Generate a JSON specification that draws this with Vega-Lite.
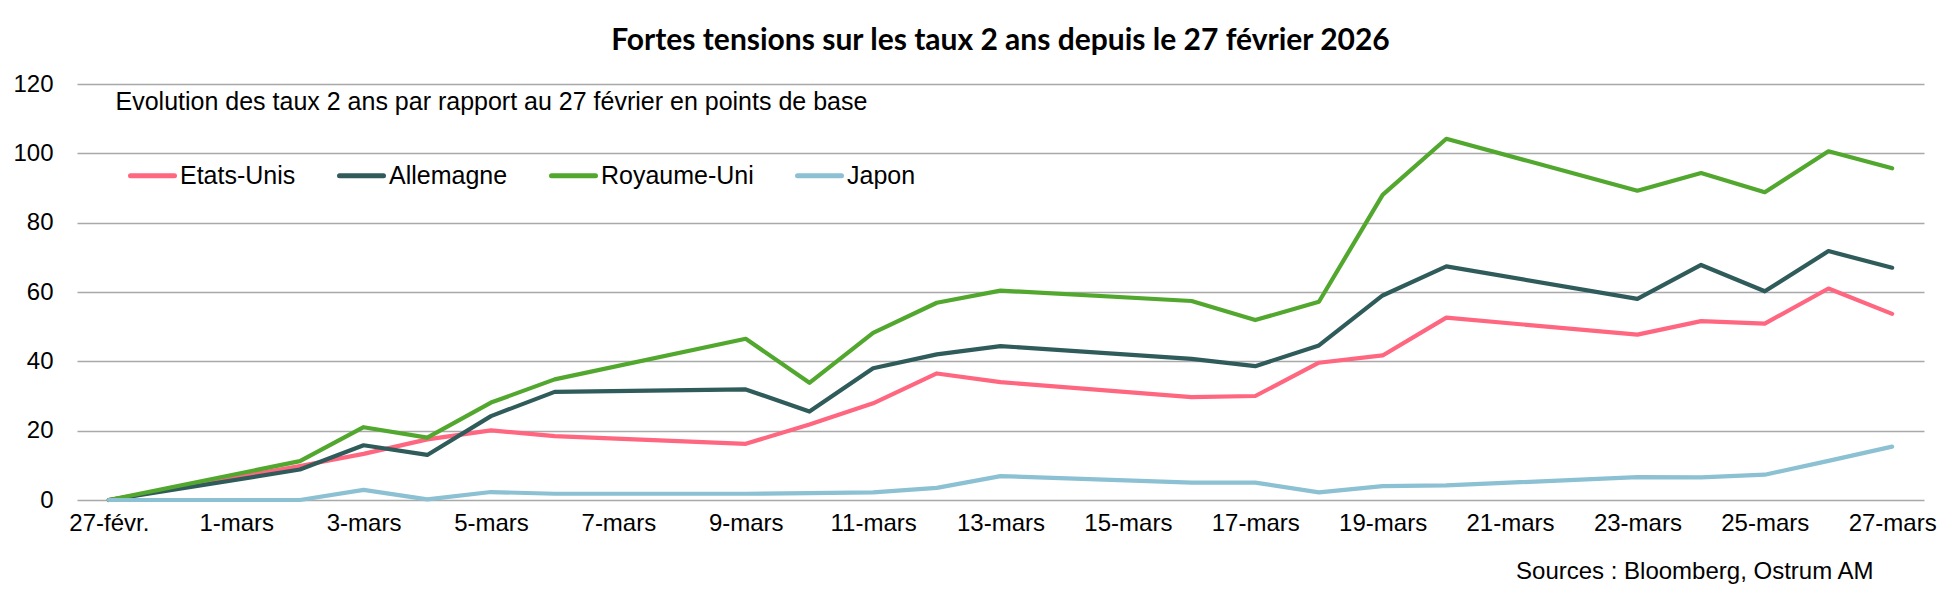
{
  "$schema": "https://vega.github.io/schema/vega-lite/v6.json",
  "width": 1847,
  "height": 416,
  "autosize": {"type": "none"},
  "padding": {"left": 77, "top": 84, "right": 23, "bottom": 111},
  "background": "white",
  "title": {
    "text": "Fortes tensions sur les taux 2 ans depuis le 27 février 2026",
    "font": "Lato",
    "fontSize": 30,
    "fontWeight": "bold",
    "color": "#000000",
    "anchor": "middle",
    "frame": "group",
    "offset": 16
  },
  "data": {
    "values": [
      {"date": "2026-02-27", "pays": "Etats-Unis", "pb": 0},
      {"date": "2026-03-02", "pays": "Etats-Unis", "pb": 9.8},
      {"date": "2026-03-03", "pays": "Etats-Unis", "pb": 13.3},
      {"date": "2026-03-04", "pays": "Etats-Unis", "pb": 17.5},
      {"date": "2026-03-05", "pays": "Etats-Unis", "pb": 20.1},
      {"date": "2026-03-06", "pays": "Etats-Unis", "pb": 18.4},
      {"date": "2026-03-09", "pays": "Etats-Unis", "pb": 16.2},
      {"date": "2026-03-10", "pays": "Etats-Unis", "pb": 21.8},
      {"date": "2026-03-11", "pays": "Etats-Unis", "pb": 27.9},
      {"date": "2026-03-12", "pays": "Etats-Unis", "pb": 36.5},
      {"date": "2026-03-13", "pays": "Etats-Unis", "pb": 34.0},
      {"date": "2026-03-16", "pays": "Etats-Unis", "pb": 29.7},
      {"date": "2026-03-17", "pays": "Etats-Unis", "pb": 30.0},
      {"date": "2026-03-18", "pays": "Etats-Unis", "pb": 39.6},
      {"date": "2026-03-19", "pays": "Etats-Unis", "pb": 41.7},
      {"date": "2026-03-20", "pays": "Etats-Unis", "pb": 52.6},
      {"date": "2026-03-23", "pays": "Etats-Unis", "pb": 47.7},
      {"date": "2026-03-24", "pays": "Etats-Unis", "pb": 51.6},
      {"date": "2026-03-25", "pays": "Etats-Unis", "pb": 50.9},
      {"date": "2026-03-26", "pays": "Etats-Unis", "pb": 61.0},
      {"date": "2026-03-27", "pays": "Etats-Unis", "pb": 53.7},
      {"date": "2026-02-27", "pays": "Allemagne", "pb": 0},
      {"date": "2026-03-02", "pays": "Allemagne", "pb": 8.8},
      {"date": "2026-03-03", "pays": "Allemagne", "pb": 15.8},
      {"date": "2026-03-04", "pays": "Allemagne", "pb": 13.0},
      {"date": "2026-03-05", "pays": "Allemagne", "pb": 24.2},
      {"date": "2026-03-06", "pays": "Allemagne", "pb": 31.2},
      {"date": "2026-03-09", "pays": "Allemagne", "pb": 31.9},
      {"date": "2026-03-10", "pays": "Allemagne", "pb": 25.5},
      {"date": "2026-03-11", "pays": "Allemagne", "pb": 38.0},
      {"date": "2026-03-12", "pays": "Allemagne", "pb": 42.0},
      {"date": "2026-03-13", "pays": "Allemagne", "pb": 44.4},
      {"date": "2026-03-16", "pays": "Allemagne", "pb": 40.7},
      {"date": "2026-03-17", "pays": "Allemagne", "pb": 38.6},
      {"date": "2026-03-18", "pays": "Allemagne", "pb": 44.6},
      {"date": "2026-03-19", "pays": "Allemagne", "pb": 59.0},
      {"date": "2026-03-20", "pays": "Allemagne", "pb": 67.4},
      {"date": "2026-03-23", "pays": "Allemagne", "pb": 58.0},
      {"date": "2026-03-24", "pays": "Allemagne", "pb": 67.8},
      {"date": "2026-03-25", "pays": "Allemagne", "pb": 60.2},
      {"date": "2026-03-26", "pays": "Allemagne", "pb": 71.8},
      {"date": "2026-03-27", "pays": "Allemagne", "pb": 67.0},
      {"date": "2026-02-27", "pays": "Royaume-Uni", "pb": 0},
      {"date": "2026-03-02", "pays": "Royaume-Uni", "pb": 11.2},
      {"date": "2026-03-03", "pays": "Royaume-Uni", "pb": 21.0},
      {"date": "2026-03-04", "pays": "Royaume-Uni", "pb": 18.0},
      {"date": "2026-03-05", "pays": "Royaume-Uni", "pb": 28.1},
      {"date": "2026-03-06", "pays": "Royaume-Uni", "pb": 34.8},
      {"date": "2026-03-09", "pays": "Royaume-Uni", "pb": 46.5},
      {"date": "2026-03-10", "pays": "Royaume-Uni", "pb": 33.8},
      {"date": "2026-03-11", "pays": "Royaume-Uni", "pb": 48.2},
      {"date": "2026-03-12", "pays": "Royaume-Uni", "pb": 56.9},
      {"date": "2026-03-13", "pays": "Royaume-Uni", "pb": 60.4},
      {"date": "2026-03-16", "pays": "Royaume-Uni", "pb": 57.4},
      {"date": "2026-03-17", "pays": "Royaume-Uni", "pb": 51.9},
      {"date": "2026-03-18", "pays": "Royaume-Uni", "pb": 57.2},
      {"date": "2026-03-19", "pays": "Royaume-Uni", "pb": 88.0},
      {"date": "2026-03-20", "pays": "Royaume-Uni", "pb": 104.2},
      {"date": "2026-03-23", "pays": "Royaume-Uni", "pb": 89.2},
      {"date": "2026-03-24", "pays": "Royaume-Uni", "pb": 94.3},
      {"date": "2026-03-25", "pays": "Royaume-Uni", "pb": 88.8},
      {"date": "2026-03-26", "pays": "Royaume-Uni", "pb": 100.6},
      {"date": "2026-03-27", "pays": "Royaume-Uni", "pb": 95.7},
      {"date": "2026-02-27", "pays": "Japon", "pb": 0},
      {"date": "2026-03-02", "pays": "Japon", "pb": 0},
      {"date": "2026-03-03", "pays": "Japon", "pb": 2.9},
      {"date": "2026-03-04", "pays": "Japon", "pb": 0.2},
      {"date": "2026-03-05", "pays": "Japon", "pb": 2.3},
      {"date": "2026-03-06", "pays": "Japon", "pb": 1.8},
      {"date": "2026-03-09", "pays": "Japon", "pb": 1.8},
      {"date": "2026-03-10", "pays": "Japon", "pb": 2.0},
      {"date": "2026-03-11", "pays": "Japon", "pb": 2.2},
      {"date": "2026-03-12", "pays": "Japon", "pb": 3.5},
      {"date": "2026-03-13", "pays": "Japon", "pb": 6.9},
      {"date": "2026-03-16", "pays": "Japon", "pb": 5.0},
      {"date": "2026-03-17", "pays": "Japon", "pb": 5.0},
      {"date": "2026-03-18", "pays": "Japon", "pb": 2.2},
      {"date": "2026-03-19", "pays": "Japon", "pb": 4.0},
      {"date": "2026-03-20", "pays": "Japon", "pb": 4.2},
      {"date": "2026-03-23", "pays": "Japon", "pb": 6.6},
      {"date": "2026-03-24", "pays": "Japon", "pb": 6.5},
      {"date": "2026-03-25", "pays": "Japon", "pb": 7.3},
      {"date": "2026-03-26", "pays": "Japon", "pb": 11.3},
      {"date": "2026-03-27", "pays": "Japon", "pb": 15.4}
    ]
  },
  "mark": {"type": "line", "strokeWidth": 4.2, "strokeCap": "round", "strokeJoin": "round"},
  "encoding": {
    "x": {
      "field": "date",
      "type": "temporal",
      "scale": {
        "type": "utc",
        "domain": [
          {"year": 2026, "month": 2, "date": 26, "hours": 12, "utc": true},
          {"year": 2026, "month": 3, "date": 27, "hours": 12, "utc": true}
        ]
      },
      "axis": {
        "values": [
          {"year": 2026, "month": 2, "date": 27, "utc": true},
          {"year": 2026, "month": 3, "date": 1, "utc": true},
          {"year": 2026, "month": 3, "date": 3, "utc": true},
          {"year": 2026, "month": 3, "date": 5, "utc": true},
          {"year": 2026, "month": 3, "date": 7, "utc": true},
          {"year": 2026, "month": 3, "date": 9, "utc": true},
          {"year": 2026, "month": 3, "date": 11, "utc": true},
          {"year": 2026, "month": 3, "date": 13, "utc": true},
          {"year": 2026, "month": 3, "date": 15, "utc": true},
          {"year": 2026, "month": 3, "date": 17, "utc": true},
          {"year": 2026, "month": 3, "date": 19, "utc": true},
          {"year": 2026, "month": 3, "date": 21, "utc": true},
          {"year": 2026, "month": 3, "date": 23, "utc": true},
          {"year": 2026, "month": 3, "date": 25, "utc": true},
          {"year": 2026, "month": 3, "date": 27, "utc": true}
        ],
        "labelExpr": "utcdate(datum.value) + '-' + (utcmonth(datum.value) == 1 ? 'févr.' : 'mars')",
        "grid": false,
        "domain": false,
        "ticks": false,
        "labelFlush": false,
        "labelOverlap": false,
        "labelPadding": 11,
        "labelBaseline": "top",
        "title": "Sources : Bloomberg, Ostrum AM",
        "titleX": 1796,
        "titleY": 78,
        "titleAlign": "right",
        "titleBaseline": "alphabetic",
        "titleFontWeight": "normal"
      }
    },
    "y": {
      "field": "pb",
      "type": "quantitative",
      "scale": {"domain": [0, 120], "nice": false},
      "axis": {
        "values": [0, 20, 40, 60, 80, 100, 120],
        "domain": false,
        "ticks": false,
        "labelPadding": 24,
        "title": "Evolution des taux 2 ans par rapport au 27 février en points de base",
        "titleAngle": 0,
        "titleX": 38,
        "titleY": 25,
        "titleAlign": "left",
        "titleBaseline": "alphabetic",
        "titleFontWeight": "normal",
        "titleFontSize": 25
      }
    },
    "color": {
      "field": "pays",
      "type": "nominal",
      "scale": {
        "domain": ["Etats-Unis", "Allemagne", "Royaume-Uni", "Japon"],
        "range": ["#ff6680", "#2f5c5a", "#52a82e", "#8bc1d2"]
      },
      "legend": {
        "title": null,
        "orient": "none",
        "legendX": 51,
        "legendY": 67,
        "direction": "horizontal",
        "symbolType": "stroke",
        "symbolSize": 1936,
        "symbolStrokeWidth": 5,
        "labelOffset": 3,
        "columnPadding": 33,
        "labelFontSize": 25,
        "encode": {"symbols": {"update": {"strokeCap": {"value": "round"}}}}
      }
    }
  },
  "config": {
    "view": {"stroke": null},
    "font": "Liberation Sans",
    "axis": {
      "labelFont": "Liberation Sans",
      "labelFontSize": 24,
      "labelColor": "#000000",
      "titleFont": "Liberation Sans",
      "titleFontSize": 24,
      "titleColor": "#000000",
      "gridColor": "#a9a9a9",
      "gridWidth": 1.5
    },
    "legend": {
      "labelFont": "Liberation Sans",
      "labelColor": "#000000"
    }
  }
}
